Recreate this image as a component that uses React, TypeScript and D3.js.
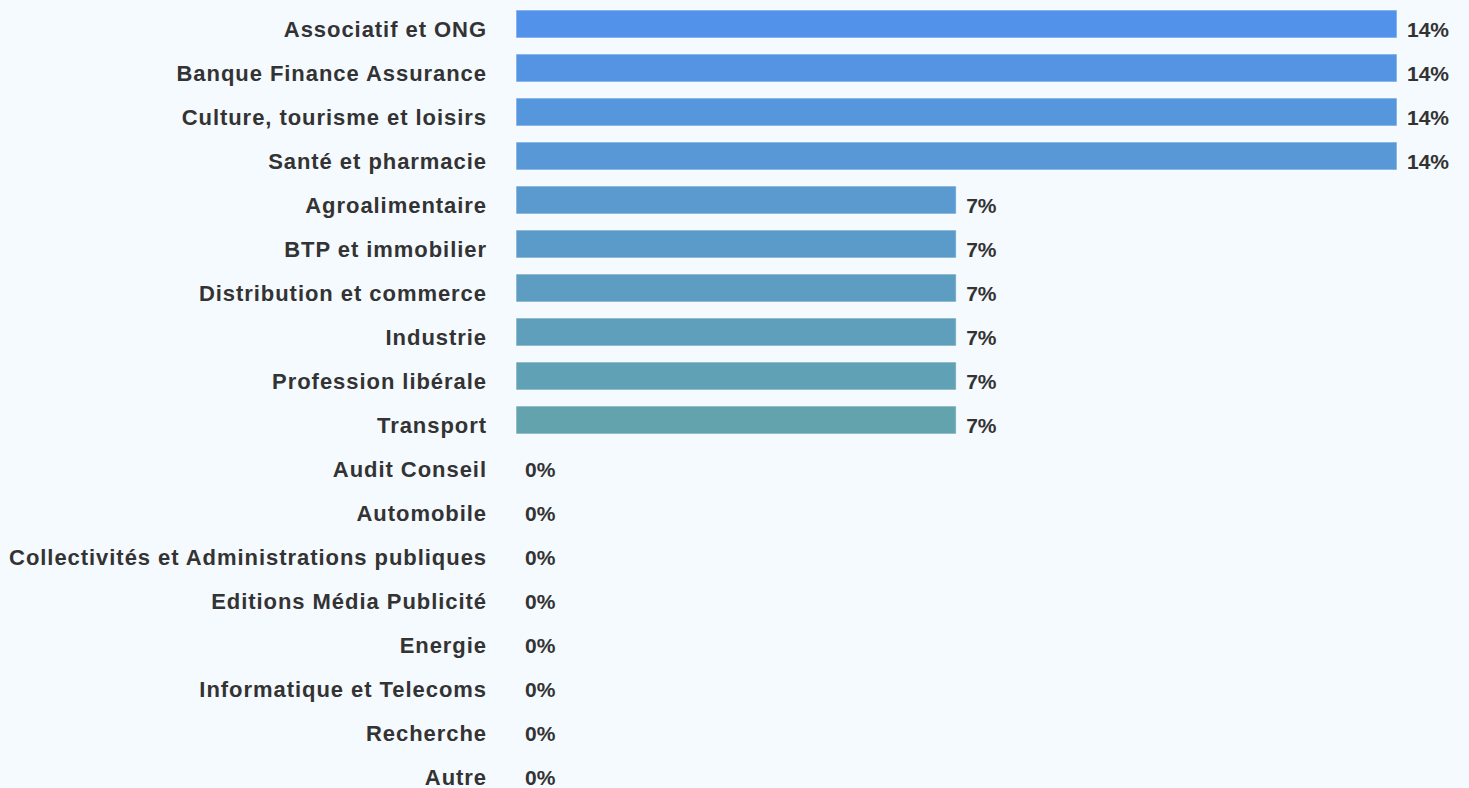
import { useEffect } from "react";
import * as d3 from "d3";

const categories = [
  "Associatif et ONG",
  "Banque Finance Assurance",
  "Culture, tourisme et loisirs",
  "Santé et pharmacie",
  "Agroalimentaire",
  "BTP et immobilier",
  "Distribution et commerce",
  "Industrie",
  "Profession libérale",
  "Transport",
  "Audit Conseil",
  "Automobile",
  "Collectivités et Administrations publiques",
  "Editions Média Publicité",
  "Energie",
  "Informatique et Telecoms",
  "Recherche",
  "Autre",
];

const values = [
  14.29, 14.29, 14.29, 14.29, 7.14, 7.14, 7.14, 7.14, 7.14, 7.14, 0, 0, 0, 0, 0, 0, 0, 0,
];

const valueLabels = [
  "14%", "14%", "14%", "14%", "7%", "7%", "7%", "7%", "7%", "7%",
  "0%", "0%", "0%", "0%", "0%", "0%", "0%", "0%",
];

const startColor = "#5292ea";
const endColor = "#63a3ae";

const W = 1469;
const H = 788;

export default function App() {
  useEffect(() => {
    document.body.style.margin = "0";
    document.body.style.background = "#f5faff";
  }, []);

  const x = d3.scaleLinear().domain([0, 14.29]).range([516, 1397]);
  const y = d3
    .scaleBand<string>()
    .domain(categories)
    .range([2, 794])
    .paddingInner(16 / 44)
    .paddingOuter(8 / 44);

  // colour fades from blue to teal over the non-empty bars
  const color = d3
    .scaleLinear<string>()
    .domain([0, 9])
    .range([startColor, endColor])
    .interpolate(d3.interpolateRgb)
    .clamp(true);

  const font = "Liberation Sans";

  return (
    <svg width={W} height={H} style={{ display: "block", background: "#f5faff" }}>
      {categories.map((c, i) => {
        const yb = y(c)!;
        const yc = yb + y.bandwidth() / 2;
        const v = values[i];
        const xe = x(v);
        return (
          <g key={c}>
            {v > 0 && (
              <rect
                x={x(0)}
                y={yb}
                width={xe - x(0)}
                height={y.bandwidth()}
                fill={color(i)}
                stroke="#ffffff"
                strokeOpacity={0.6}
                strokeWidth={1}
              />
            )}
            <text
              x={487}
              y={yc + 12.5}
              textAnchor="end"
              style={{ fontFamily: font, fontWeight: 700, fontSize: 22, letterSpacing: 0.95 }}
              fill="#333333"
            >
              {c}
            </text>
            <text
              x={xe + (v > 0 ? 10 : 9)}
              y={yc + 12.5}
              style={{ fontFamily: font, fontWeight: 700, fontSize: 21 }}
              fill="#333333"
            >
              {valueLabels[i]}
            </text>
          </g>
        );
      })}
    </svg>
  );
}
